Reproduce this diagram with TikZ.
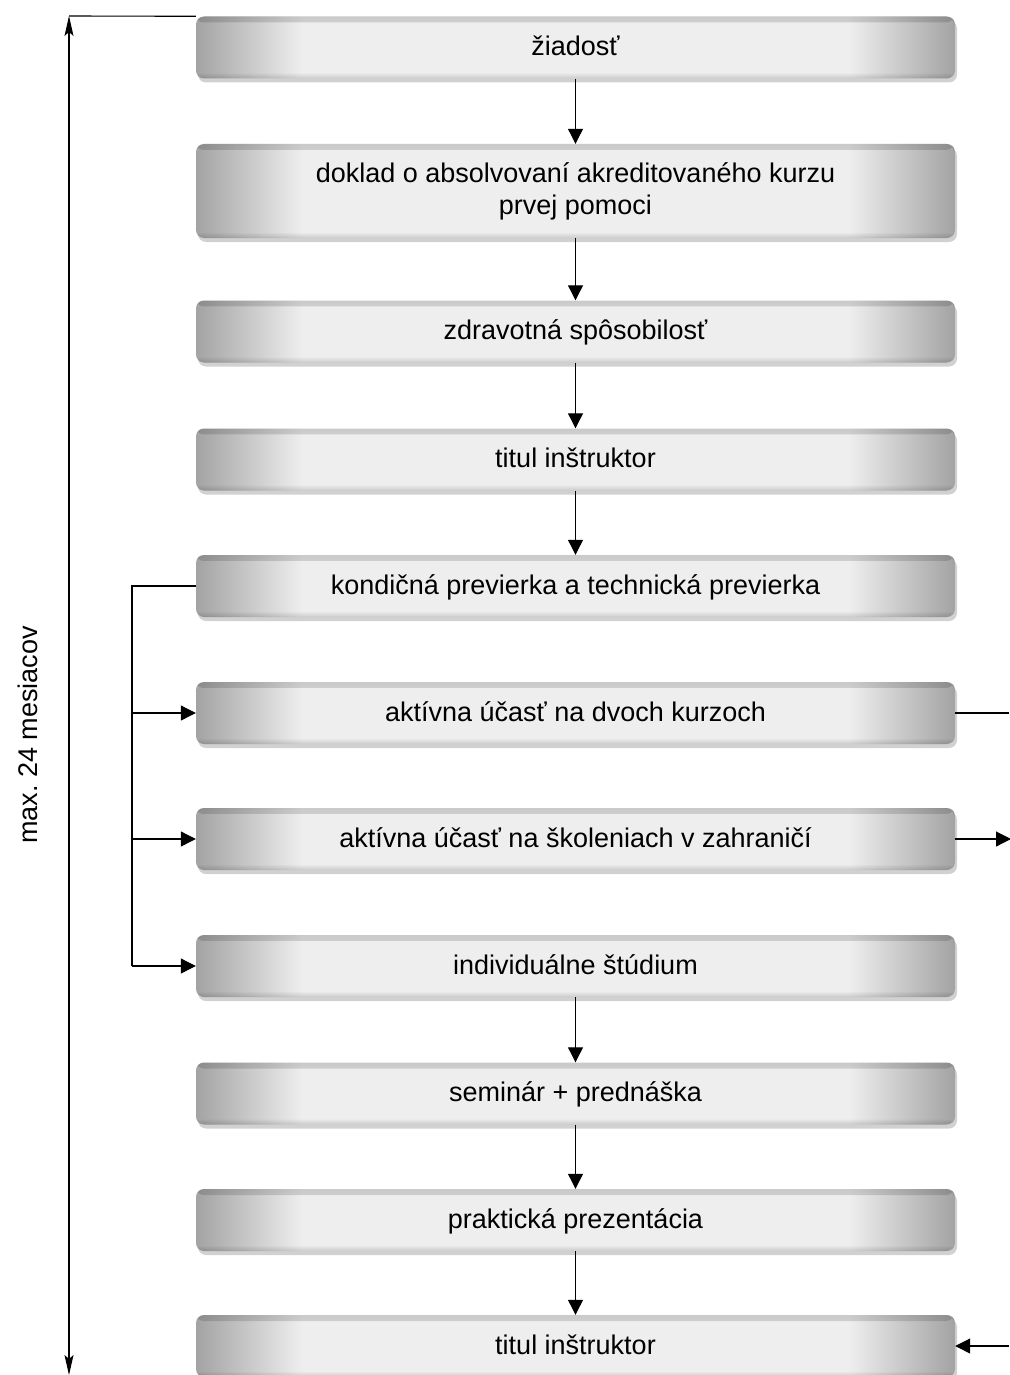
\documentclass[tikz,border=0pt]{standalone}
\usepackage{fontspec}
\setmainfont{Liberation Sans}
\usetikzlibrary{arrows.meta,shadows,fadings}
\definecolor{boxgray}{HTML}{A3A3A3}
\definecolor{boxlight}{HTML}{EEEEEE}
\pgfdeclarehorizontalshading{boxshade}{100bp}{color(0bp)=(boxgray); color(25bp)=(boxgray); color(28.5bp)=(boxgray!50!boxlight); color(32bp)=(boxlight); color(68bp)=(boxlight); color(71.5bp)=(boxgray!50!boxlight); color(75bp)=(boxgray); color(100bp)=(boxgray)}
\tikzfading[name=topfade, top color=transparent!0, bottom color=transparent!100]
\tikzfading[name=botfade, top color=transparent!100, bottom color=transparent!0]
\begin{document}
\begin{tikzpicture}[x=1pt,y=-1pt,
  stepbox/.style={rounded corners=8pt, minimum width=759pt, minimum height=62pt, inner sep=0pt,
    shading=boxshade, align=center, font=\fontsize{27}{32}\selectfont,
    text height=20pt, text depth=4pt,
    drop shadow={shadow xshift=2pt, shadow yshift=-4pt, fill=black!18, opacity=1},
    path picture={
      \fill[black,opacity=0.15,path fading=topfade] (path picture bounding box.north west) rectangle ([yshift=-6pt]path picture bounding box.north east);
      \fill[black,opacity=0.15,path fading=botfade] (path picture bounding box.south west) rectangle ([yshift=6pt]path picture bounding box.south east);
    }},
  conn/.style={line width=1.1pt, draw=black},
  arr/.style={conn, -{Triangle[length=15pt,width=15pt]}},
  dimarr/.style={line width=1.1pt, {Stealth[length=20pt,width=9pt,inset=4pt]}-{Stealth[length=20pt,width=9pt,inset=4pt]}}
]
\useasboundingbox (0,0) rectangle (1009,1375);
\fill[white] (0,0) rectangle (1009,1375);

\node[stepbox] (b1) at (575.5,47.5) {žiadosť};
\node[stepbox, minimum height=94pt, text height=, text depth=] (b2) at (575.5,191) {doklad o absolvovaní akreditovaného kurzu\\prvej pomoci};
\node[stepbox] (b3) at (575.5,331.5) {zdravotná spôsobilosť};
\node[stepbox] (b4) at (575.5,459.5) {titul inštruktor};
\node[stepbox] (b5) at (575.5,586) {kondičná previerka a technická previerka};
\node[stepbox] (b6) at (575.5,713) {aktívna účasť na dvoch kurzoch};
\node[stepbox] (b7) at (575.5,839) {aktívna účasť na školeniach v zahraničí};
\node[stepbox] (b8) at (575.5,966) {individuálne štúdium};
\node[stepbox] (b9) at (575.5,1093.5) {seminár + prednáška};
\node[stepbox] (b10) at (575.5,1220) {praktická prezentácia};
\node[stepbox] (b11) at (575.5,1346) {titul inštruktor};

\draw[arr] (b1) -- (b2);
\draw[arr] (b2) -- (b3);
\draw[arr] (b3) -- (b4);
\draw[arr] (b4) -- (b5);
\draw[arr] (b8) -- (b9);
\draw[arr] (b9) -- (b10);
\draw[arr] (b10) -- (b11);

% left bracket
\coordinate (lb5) at (132,586);
\coordinate (lb8) at (132,966);
\draw[conn] (b5.west) -- (lb5) -- (lb8);
\draw[arr] (lb8) -- (b8.west);
\draw[arr] (132,713) -- (b6.west);
\draw[arr] (132,839) -- (b7.west);

% right side
\coordinate (r6) at (1009,713);
\coordinate (r7) at (1011,839);
\coordinate (r11) at (1009,1346);
\draw[conn] (b6.east) -- (r6);
\draw[arr] (b7.east) -- (r7);
\draw[arr] (r11) -- (b11.east);

% dimension line
\coordinate (dtop) at (69,16);
\coordinate (dbot) at (69,1375);
\draw[conn] (dtop) -- (b1.north west);
\draw[dimarr] (dtop) -- (dbot);
\node[rotate=90, font=\fontsize{27}{32}\selectfont] (dimlabel) at (28,735) {max.\ 24 mesiacov};
\end{tikzpicture}
\end{document}
